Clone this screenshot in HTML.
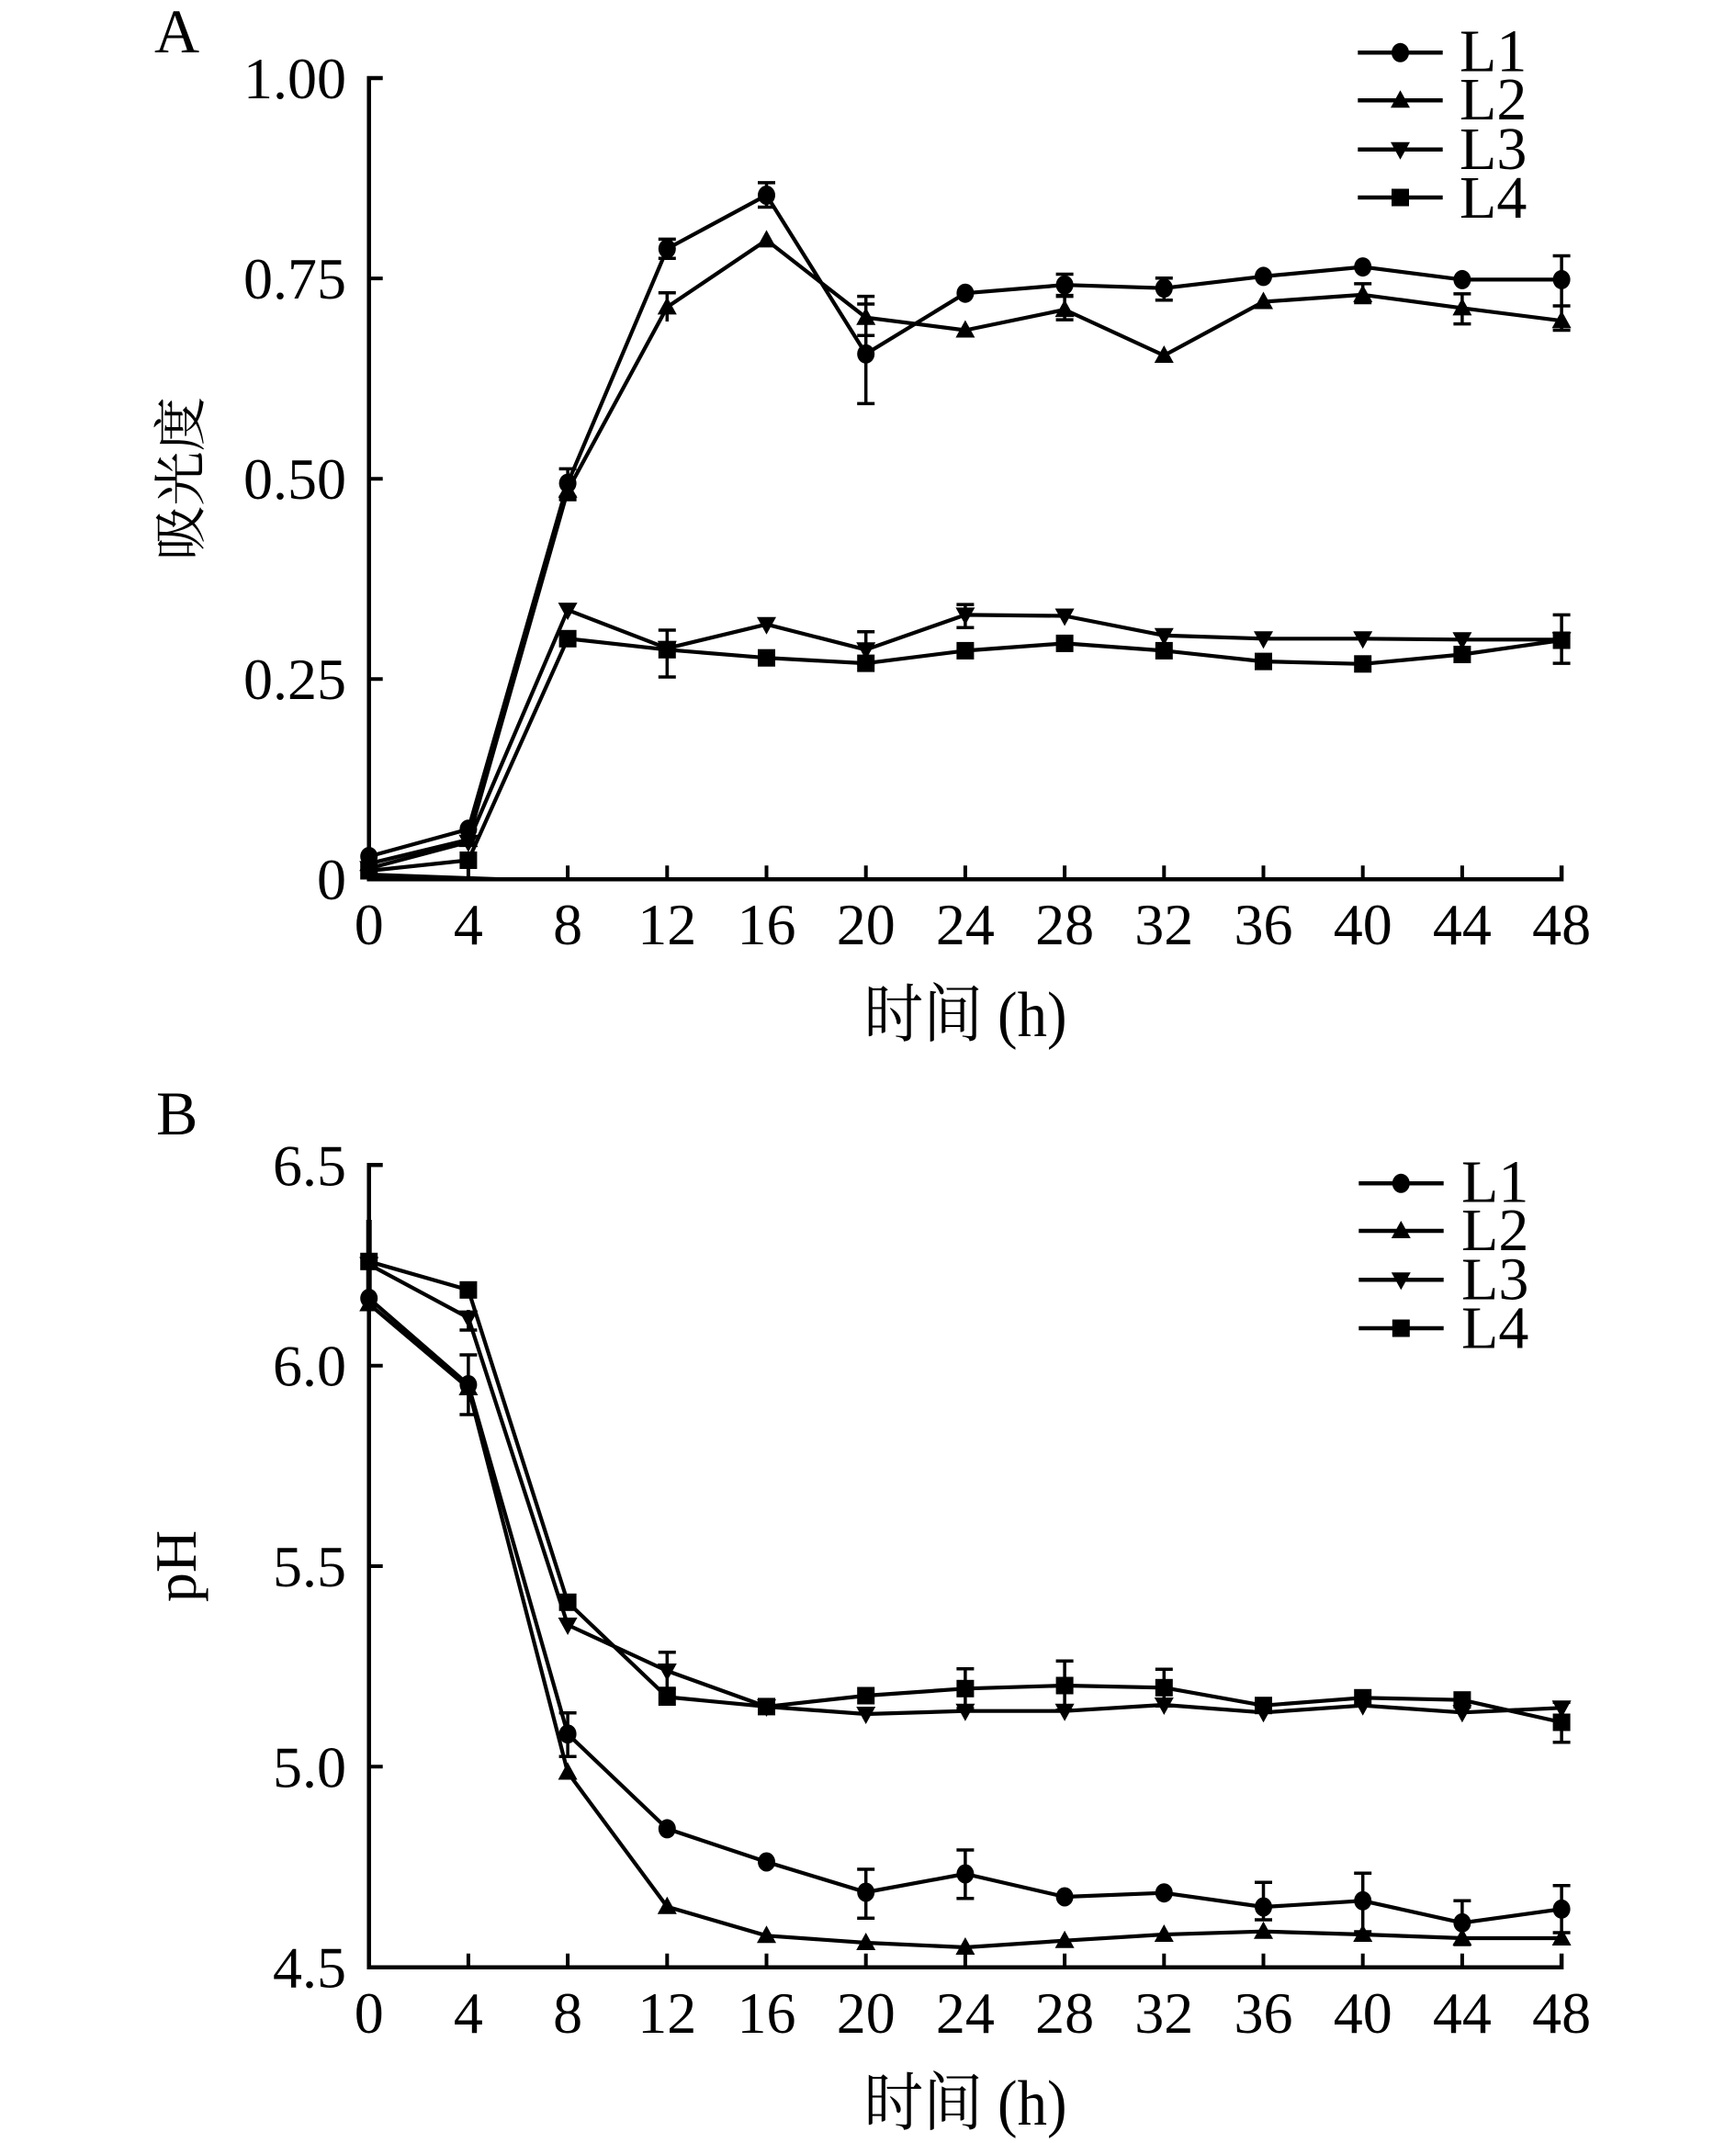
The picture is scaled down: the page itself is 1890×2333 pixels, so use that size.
<!DOCTYPE html>
<html>
<head>
<meta charset="utf-8">
<style>
html,body{margin:0;padding:0;background:#fff;}
svg{display:block;}
text{font-family:"Liberation Serif","Noto Serif CJK SC",serif;fill:#000;}
</style>
</head>
<body>
<svg width="1890" height="2333" viewBox="0 0 1890 2333" xmlns="http://www.w3.org/2000/svg">
<defs>
  <marker id="mc" markerUnits="userSpaceOnUse" markerWidth="30" markerHeight="30" refX="15" refY="15" overflow="visible">
    <ellipse cx="15" cy="15" rx="9.5" ry="10.5" fill="#000"/>
  </marker>
  <marker id="mu" markerUnits="userSpaceOnUse" markerWidth="30" markerHeight="30" refX="15" refY="15" overflow="visible">
    <polygon points="15,4 4.5,23 25.5,23" fill="#000"/>
  </marker>
  <marker id="md" markerUnits="userSpaceOnUse" markerWidth="30" markerHeight="30" refX="15" refY="15" overflow="visible">
    <polygon points="15,26 4.5,7 25.5,7" fill="#000"/>
  </marker>
  <marker id="ms" markerUnits="userSpaceOnUse" markerWidth="30" markerHeight="30" refX="15" refY="15" overflow="visible">
    <rect x="5.5" y="5.5" width="19" height="19" fill="#000"/>
  </marker>
</defs>

<!-- ================= Chart A ================= -->
<text x="168" y="57" font-size="68">A</text>

<!-- axes -->
<path d="M416.7 85 H401.7 V957.3 H1700.1 V942.3" fill="none" stroke="#000" stroke-width="4.5"/>
<path d="M401.7 303.1 H416.7 M401.7 521.2 H416.7 M401.7 739.2 H416.7
         M509.9 957.3 V942.3 M618.1 957.3 V942.3 M726.3 957.3 V942.3 M834.5 957.3 V942.3
         M942.7 957.3 V942.3 M1050.9 957.3 V942.3 M1159.1 957.3 V942.3 M1267.3 957.3 V942.3
         M1375.5 957.3 V942.3 M1483.7 957.3 V942.3 M1591.9 957.3 V942.3" fill="none" stroke="#000" stroke-width="4"/>
<polygon points="402,950 556,955.5 402,957" fill="#000"/>

<!-- y tick labels -->
<g font-size="64" text-anchor="end">
  <text x="377" y="107">1.00</text>
  <text x="377" y="325">0.75</text>
  <text x="377" y="543">0.50</text>
  <text x="377" y="761">0.25</text>
  <text x="377" y="979">0</text>
</g>
<!-- x tick labels -->
<g font-size="64" text-anchor="middle">
  <text x="401.7" y="1028">0</text>
  <text x="509.9" y="1028">4</text>
  <text x="618.1" y="1028">8</text>
  <text x="726.3" y="1028">12</text>
  <text x="834.5" y="1028">16</text>
  <text x="942.7" y="1028">20</text>
  <text x="1050.9" y="1028">24</text>
  <text x="1159.1" y="1028">28</text>
  <text x="1267.3" y="1028">32</text>
  <text x="1375.5" y="1028">36</text>
  <text x="1483.7" y="1028">40</text>
  <text x="1591.9" y="1028">44</text>
  <text x="1700.1" y="1028">48</text>
</g>
<text transform="translate(1051,1128) scale(1,1.12)" font-size="62" text-anchor="middle" textLength="221" lengthAdjust="spacingAndGlyphs">时间 (h)</text>
<text transform="translate(217,521) rotate(-90)" font-size="58" text-anchor="middle" textLength="178" lengthAdjust="spacingAndGlyphs">吸光度</text>

<!-- error bars A -->
<path fill="none" stroke="#000" stroke-width="3.5" d="
M618.1 510.4V541M608.6 510.4H627.6M608.6 541H627.6
M726.3 260.4V281.2M716.8 260.4H735.8M716.8 281.2H735.8
M834.5 198.9V225.5M825 198.9H844M825 225.5H844
M942.7 331V439.4M933.2 331H952.2M933.2 439.4H952.2
M1159.1 298.5V322.6M1149.6 298.5H1168.6M1149.6 322.6H1168.6
M1267.3 302.7V326.8M1257.8 302.7H1276.8M1257.8 326.8H1276.8
M1700.1 278.5V333M1690.6 278.5H1709.6M1690.6 333H1709.6
M618.1 523V544M608.6 544H627.6
M726.3 318.7V350M716.8 318.7H735.8
M942.7 322.6V365.3M933.2 322.6H952.2M933.2 365.3H952.2
M1159.1 321.6V348.1M1149.6 321.6H1168.6M1149.6 348.1H1168.6
M1483.7 308.9V329.5M1474.2 308.9H1493.2M1474.2 329.5H1493.2
M1591.9 319.9V352.6M1582.4 319.9H1601.4M1582.4 352.6H1601.4
M1700.1 333V359.5M1690.6 333H1709.6M1690.6 359.5H1709.6
M942.7 687.7V722.8M933.2 687.7H952.2M933.2 722.8H952.2
M1050.9 658.1V683.2M1041.4 658.1H1060.4M1041.4 683.2H1060.4
M726.3 686V737M716.8 686H735.8M716.8 737H735.8
M1700.1 669.4V722.1M1690.6 669.4H1709.6M1690.6 722.1H1709.6
"/>

<!-- series A -->
<g fill="none" stroke="#000" stroke-width="4.2" stroke-linejoin="round">
  <polyline marker-start="url(#mc)" marker-mid="url(#mc)" marker-end="url(#mc)" points="401.7,932.4 509.9,902.7 618.1,526.1 726.3,270.8 834.5,212.5 942.7,385.3 1050.9,319.2 1159.1,310.2 1267.3,313.7 1375.5,300.9 1483.7,290.6 1591.9,304.4 1700.1,304.4"/>
  <polyline marker-start="url(#mu)" marker-mid="url(#mu)" marker-end="url(#mu)" points="401.7,940.2 509.9,914.1 618.1,533.9 726.3,334.4 834.5,261.4 942.7,345.7 1050.9,359.5 1159.1,337.1 1267.3,387 1375.5,328.5 1483.7,320.9 1591.9,335.4 1700.1,349.2"/>
  <polyline marker-start="url(#md)" marker-mid="url(#md)" marker-end="url(#md)" points="401.7,945.4 509.9,916.7 618.1,664.1 726.3,705.8 834.5,679.7 942.7,707.3 1050.9,669.4 1159.1,670.5 1267.3,691.8 1375.5,695.3 1483.7,695.3 1591.9,696.3 1700.1,696.3"/>
  <polyline marker-start="url(#ms)" marker-mid="url(#ms)" marker-end="url(#ms)" points="401.7,948 509.9,936.5 618.1,695.3 726.3,707.3 834.5,716.2 942.7,722.1 1050.9,708.4 1159.1,700.4 1267.3,708.4 1375.5,720.1 1483.7,722.8 1591.9,712.5 1700.1,697"/>
</g>

<!-- legend A -->
<g fill="none" stroke="#000" stroke-width="4.5">
  <polyline marker-mid="url(#mc)" points="1478.3,57.3 1524.5,57.3 1570.7,57.3"/>
  <polyline marker-mid="url(#mu)" points="1478.3,109.3 1524.5,109.3 1570.7,109.3"/>
  <polyline marker-mid="url(#md)" points="1478.3,162.7 1524.5,162.7 1570.7,162.7"/>
  <polyline marker-mid="url(#ms)" points="1478.3,215 1524.5,215 1570.7,215"/>
</g>
<g font-size="66">
  <text x="1589" y="77.5">L1</text>
  <text x="1589" y="130">L2</text>
  <text x="1589" y="184">L3</text>
  <text x="1589" y="237">L4</text>
</g>

<!-- ================= Chart B ================= -->
<text x="170" y="1235" font-size="68">B</text>

<path d="M416.7 1268.3 H401.7 V2141.7 H1700.1 V2126.7" fill="none" stroke="#000" stroke-width="4.5"/>
<path d="M401.7 1486.7 H416.7 M401.7 1705 H416.7 M401.7 1923.3 H416.7
         M509.9 2141.7 V2126.7 M618.1 2141.7 V2126.7 M726.3 2141.7 V2126.7 M834.5 2141.7 V2126.7
         M942.7 2141.7 V2126.7 M1050.9 2141.7 V2126.7 M1159.1 2141.7 V2126.7 M1267.3 2141.7 V2126.7
         M1375.5 2141.7 V2126.7 M1483.7 2141.7 V2126.7 M1591.9 2141.7 V2126.7" fill="none" stroke="#000" stroke-width="4"/>
<path d="M401.7 1328 V1420" stroke="#000" stroke-width="6" fill="none"/>

<g font-size="64" text-anchor="end">
  <text x="377" y="1290.3">6.5</text>
  <text x="377" y="1508.7">6.0</text>
  <text x="377" y="1727">5.5</text>
  <text x="377" y="1945.3">5.0</text>
  <text x="377" y="2163.7">4.5</text>
</g>
<g font-size="64" text-anchor="middle">
  <text x="401.7" y="2213">0</text>
  <text x="509.9" y="2213">4</text>
  <text x="618.1" y="2213">8</text>
  <text x="726.3" y="2213">12</text>
  <text x="834.5" y="2213">16</text>
  <text x="942.7" y="2213">20</text>
  <text x="1050.9" y="2213">24</text>
  <text x="1159.1" y="2213">28</text>
  <text x="1267.3" y="2213">32</text>
  <text x="1375.5" y="2213">36</text>
  <text x="1483.7" y="2213">40</text>
  <text x="1591.9" y="2213">44</text>
  <text x="1700.1" y="2213">48</text>
</g>
<text transform="translate(1051,2313) scale(1,1.12)" font-size="62" text-anchor="middle" textLength="221" lengthAdjust="spacingAndGlyphs">时间 (h)</text>
<text transform="translate(213,1705) rotate(-90)" font-size="64" text-anchor="middle">pH</text>

<!-- error bars B -->
<path fill="none" stroke="#000" stroke-width="3.5" d="
M509.9 1475V1540M500.4 1475H519.4M500.4 1540H519.4
M618.1 1864.7V1912.3M608.6 1864.7H627.6M608.6 1912.3H627.6
M942.7 2035V2088.3M933.2 2035H952.2M933.2 2088.3H952.2
M1050.9 2014V2066.7M1041.4 2014H1060.4M1041.4 2066.7H1060.4
M1375.5 2049.3V2090M1366 2049.3H1385M1366 2090H1385
M1483.7 2039.3V2103M1474.2 2039.3H1493.2M1474.2 2103H1493.2
M1591.9 2069.3V2117M1582.4 2069.3H1601.4M1582.4 2117H1601.4
M1700.1 2052.7V2104M1690.6 2052.7H1709.6M1690.6 2104H1709.6
M509.9 1426V1448M500.4 1448H519.4
M726.3 1798.8V1838M716.8 1798.8H735.8M716.8 1838H735.8
M1050.9 1816.7V1860M1041.4 1816.7H1060.4M1041.4 1860H1060.4
M1159.1 1808.3V1861.7M1149.6 1808.3H1168.6M1149.6 1861.7H1168.6
M1267.3 1817.3V1857.3M1257.8 1817.3H1276.8M1257.8 1857.3H1276.8
M1700.1 1853.3V1896.7M1690.6 1853.3H1709.6M1690.6 1896.7H1709.6
"/>

<!-- series B -->
<g fill="none" stroke="#000" stroke-width="4.2" stroke-linejoin="round">
  <polyline marker-start="url(#mc)" marker-mid="url(#mc)" marker-end="url(#mc)" points="401.7,1413.4 509.9,1507.5 618.1,1887.7 726.3,1990.9 834.5,2027 942.7,2060 1050.9,2040 1159.1,2065 1267.3,2060.7 1375.5,2076 1483.7,2069.3 1591.9,2093.3 1700.1,2078.3"/>
  <polyline marker-start="url(#mu)" marker-mid="url(#mu)" marker-end="url(#mu)" points="401.7,1419.5 509.9,1511 618.1,1929.5 726.3,2075.8 834.5,2107.3 942.7,2115 1050.9,2120 1159.1,2112.7 1267.3,2106 1375.5,2102.7 1483.7,2106 1591.9,2110 1700.1,2110"/>
  <polyline marker-start="url(#md)" marker-mid="url(#md)" marker-end="url(#md)" points="401.7,1376.5 509.9,1434.6 618.1,1769 726.3,1819 834.5,1858 942.7,1866 1050.9,1862.7 1159.1,1862.7 1267.3,1856 1375.5,1864.3 1483.7,1856.7 1591.9,1864.3 1700.1,1859.3"/>
  <polyline marker-start="url(#ms)" marker-mid="url(#ms)" marker-end="url(#ms)" points="401.7,1373.3 509.9,1404.3 618.1,1744.3 726.3,1847.5 834.5,1857.9 942.7,1846 1050.9,1838.3 1159.1,1835 1267.3,1837.3 1375.5,1856.7 1483.7,1848.3 1591.9,1850.7 1700.1,1875"/>
</g>

<!-- legend B -->
<g fill="none" stroke="#000" stroke-width="4.5">
  <polyline marker-mid="url(#mc)" points="1479.3,1288.3 1525.3,1288.3 1571.7,1288.3"/>
  <polyline marker-mid="url(#mu)" points="1479.3,1340 1525.3,1340 1571.7,1340"/>
  <polyline marker-mid="url(#md)" points="1479.3,1393.3 1525.3,1393.3 1571.7,1393.3"/>
  <polyline marker-mid="url(#ms)" points="1479.3,1446 1525.3,1446 1571.7,1446"/>
</g>
<g font-size="66">
  <text x="1591" y="1308.5">L1</text>
  <text x="1591" y="1361">L2</text>
  <text x="1591" y="1414.5">L3</text>
  <text x="1591" y="1467.5">L4</text>
</g>
</svg>
</body>
</html>
